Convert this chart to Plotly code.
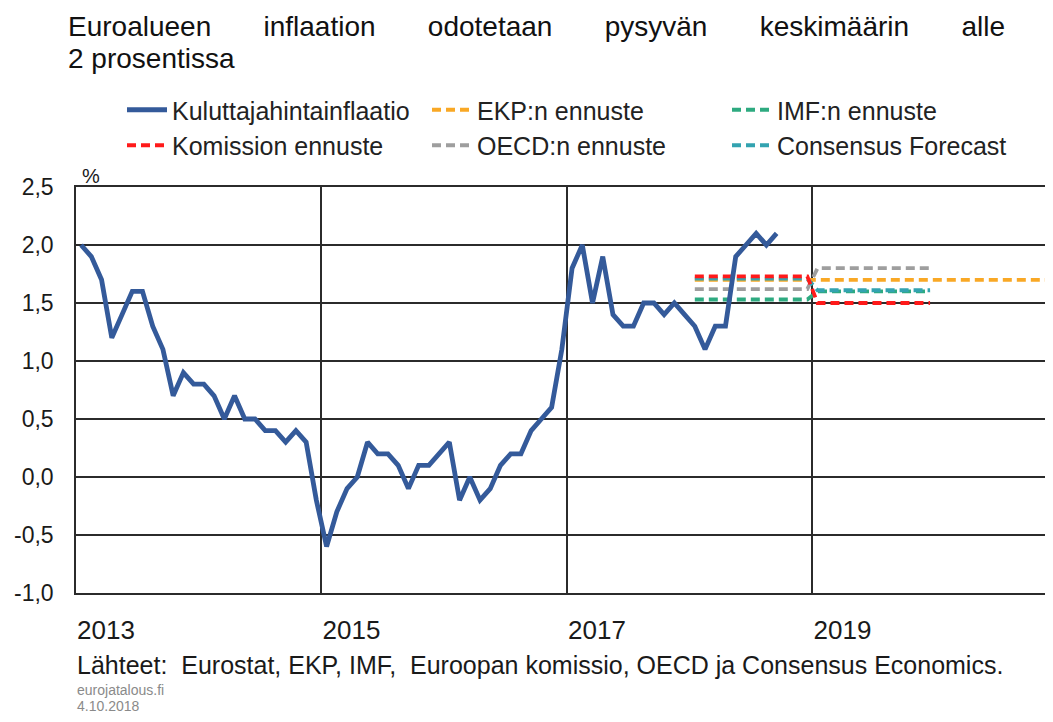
import plotly.graph_objects as go

# ---- data ----
start_year = 2013
inflation = [
    2.0, 1.9, 1.7, 1.2, 1.4, 1.6, 1.6, 1.3, 1.1, 0.7, 0.9, 0.8,      # 2013
    0.8, 0.7, 0.5, 0.7, 0.5, 0.5, 0.4, 0.4, 0.3, 0.4, 0.3, -0.2,     # 2014
    -0.6, -0.3, -0.1, 0.0, 0.3, 0.2, 0.2, 0.1, -0.1, 0.1, 0.1, 0.2,  # 2015
    0.3, -0.2, 0.0, -0.2, -0.1, 0.1, 0.2, 0.2, 0.4, 0.5, 0.6, 1.1,   # 2016
    1.8, 2.0, 1.5, 1.9, 1.4, 1.3, 1.3, 1.5, 1.5, 1.4, 1.5, 1.4,      # 2017
    1.3, 1.1, 1.3, 1.3, 1.9, 2.0, 2.1, 2.0, 2.1,                     # 2018
]

ekp_years = [2018, 2019, 2020]
ekp_values = [1.70, 1.70, 1.70]
imf_years = [2018, 2019]
imf_values = [1.53, 1.60]
komissio_years = [2018, 2019]
komissio_values = [1.73, 1.50]
oecd_years = [2018, 2019]
oecd_values = [1.62, 1.80]
consensus_years = [2018, 2019]
consensus_values = [1.71, 1.61]

year_ticks = [2013, 2015, 2017, 2019]
y_ticks = [-1.0, -0.5, 0.0, 0.5, 1.0, 1.5, 2.0, 2.5]
y_tick_text = ["-1,0", "-0,5", "0,0", "0,5", "1,0", "1,5", "2,0", "2,5"]

title_words = ["Euroalueen", "inflaation", "odotetaan", "pysyvän", "keskimäärin", "alle"]
title_line2 = "2 prosentissa"

# ---- styling / geometry (page has an 8px body margin) ----
FONT = "Liberation Sans, Arial, sans-serif"
GRID = "#2b2b2b"
PX0, PY0 = 76, 593          # absolute pixel of plot-area left / bottom
PW, PH = 977, 406           # plot-area size in pixels


def px(xabs):
    return (xabs - PX0) / PW


def py(yabs):
    return (PY0 - yabs) / PH


def month_x(i):
    return start_year + (i + 0.5) / 12.0


fig = go.Figure()

forecasts = [
    # name, years, values, colour, legend, rank
    ("EKP:n ennuste", ekp_years, ekp_values, "#F9A825", "legend2", 1),
    ("IMF:n ennuste", imf_years, imf_values, "#2EAA80", "legend3", 1),
    ("OECD:n ennuste", oecd_years, oecd_values, "#9E9E9E", "legend2", 2),
    ("Consensus Forecast", consensus_years, consensus_values, "#33A3B0", "legend3", 2),
    ("Komission ennuste", komissio_years, komissio_values, "#FF1A1A", "legend", 2),
]

for name, yrs, vals, col, leg, rank in forecasts:
    xs, ys = [], []
    for yr, v in zip(yrs, vals):
        xs += [yr + 0.5 / 12, yr + 11.5 / 12]
        ys += [v, v]
    fig.add_trace(go.Scatter(
        x=xs, y=ys, mode="lines", name=name, legend=leg, legendrank=rank,
        line=dict(color=col, width=3.8, dash="9px,5px"),
        hoverinfo="skip",
    ))

fig.add_trace(go.Scatter(
    x=[month_x(i) for i in range(len(inflation))], y=inflation,
    mode="lines", name="Kuluttajahintainflaatio", legend="legend", legendrank=1,
    line=dict(color="#345A9A", width=4.8),
))

gap = "\u00a0" * 6 + "\u2009"
title_line1 = gap.join(title_words)

legend_common = dict(orientation="v", yanchor="top", xanchor="left",
                     font=dict(size=25, family=FONT, color="#222222"),
                     bgcolor="rgba(0,0,0,0)", traceorder="normal", itemwidth=40)
leg_top = py(87)

fig.update_layout(
    width=1045, height=714, autosize=False,
    margin=dict(l=68, r=0, t=179, b=129, autoexpand=False),
    paper_bgcolor="white", plot_bgcolor="white",
    font=dict(family=FONT, color="#1a1a1a"),
    showlegend=True,
    legend=dict(x=px(122), y=leg_top, **legend_common),
    legend2=dict(x=px(427), y=leg_top, **legend_common),
    legend3=dict(x=px(727), y=leg_top, **legend_common),
    xaxis=dict(range=[2013, 2020.96], showgrid=False, zeroline=False,
               showline=True, linecolor=GRID, linewidth=1.5, mirror=True,
               tickmode="array", tickvals=year_ticks,
               ticktext=[str(y) for y in year_ticks],
               ticklabelshift=30, ticklabelstandoff=13, ticks="",
               tickfont=dict(size=26, family=FONT, color="#1a1a1a"),
               minor=dict(tickmode="array", tickvals=year_ticks, showgrid=True,
                          gridcolor=GRID, gridwidth=1.5, ticks="")),
    yaxis=dict(range=[-1.0, 2.5], tickmode="array", tickvals=y_ticks,
               ticktext=y_tick_text, showgrid=True, gridcolor=GRID,
               gridwidth=1.5, zeroline=True, zerolinecolor=GRID,
               zerolinewidth=1.5, showline=True, linecolor=GRID, linewidth=1.5,
               ticks="", ticklabelstandoff=16,
               tickfont=dict(size=23, family=FONT, color="#1a1a1a")),
    annotations=[
        dict(text=title_line1, xref="paper", yref="paper", x=px(66), y=py(26),
             xanchor="left", yanchor="middle", showarrow=False,
             font=dict(size=28, family=FONT, color="#111111")),
        dict(text=title_line2, xref="paper", yref="paper", x=px(66), y=py(59),
             xanchor="left", yanchor="middle", showarrow=False,
             font=dict(size=28, family=FONT, color="#111111")),
        dict(text="%", xref="paper", yref="paper", x=px(91), y=py(176),
             xanchor="center", yanchor="middle",
             showarrow=False, font=dict(size=20, family=FONT, color="#1a1a1a")),
        dict(text="Lähteet:  Eurostat, EKP, IMF,  Euroopan komissio, OECD ja Consensus Economics.",
             xref="paper", yref="paper", x=px(75), y=py(665),
             xanchor="left", yanchor="middle", showarrow=False,
             font=dict(size=25, family=FONT, color="#1a1a1a")),
        dict(text="eurojatalous.fi", xref="paper", yref="paper",
             x=px(75), y=py(690), xanchor="left",
             yanchor="middle", showarrow=False,
             font=dict(size=14, family=FONT, color="#8a8a8a")),
        dict(text="4.10.2018", xref="paper", yref="paper",
             x=px(75), y=py(706), xanchor="left",
             yanchor="middle", showarrow=False,
             font=dict(size=14, family=FONT, color="#8a8a8a")),
    ],
)

fig.write_html("out.html")
